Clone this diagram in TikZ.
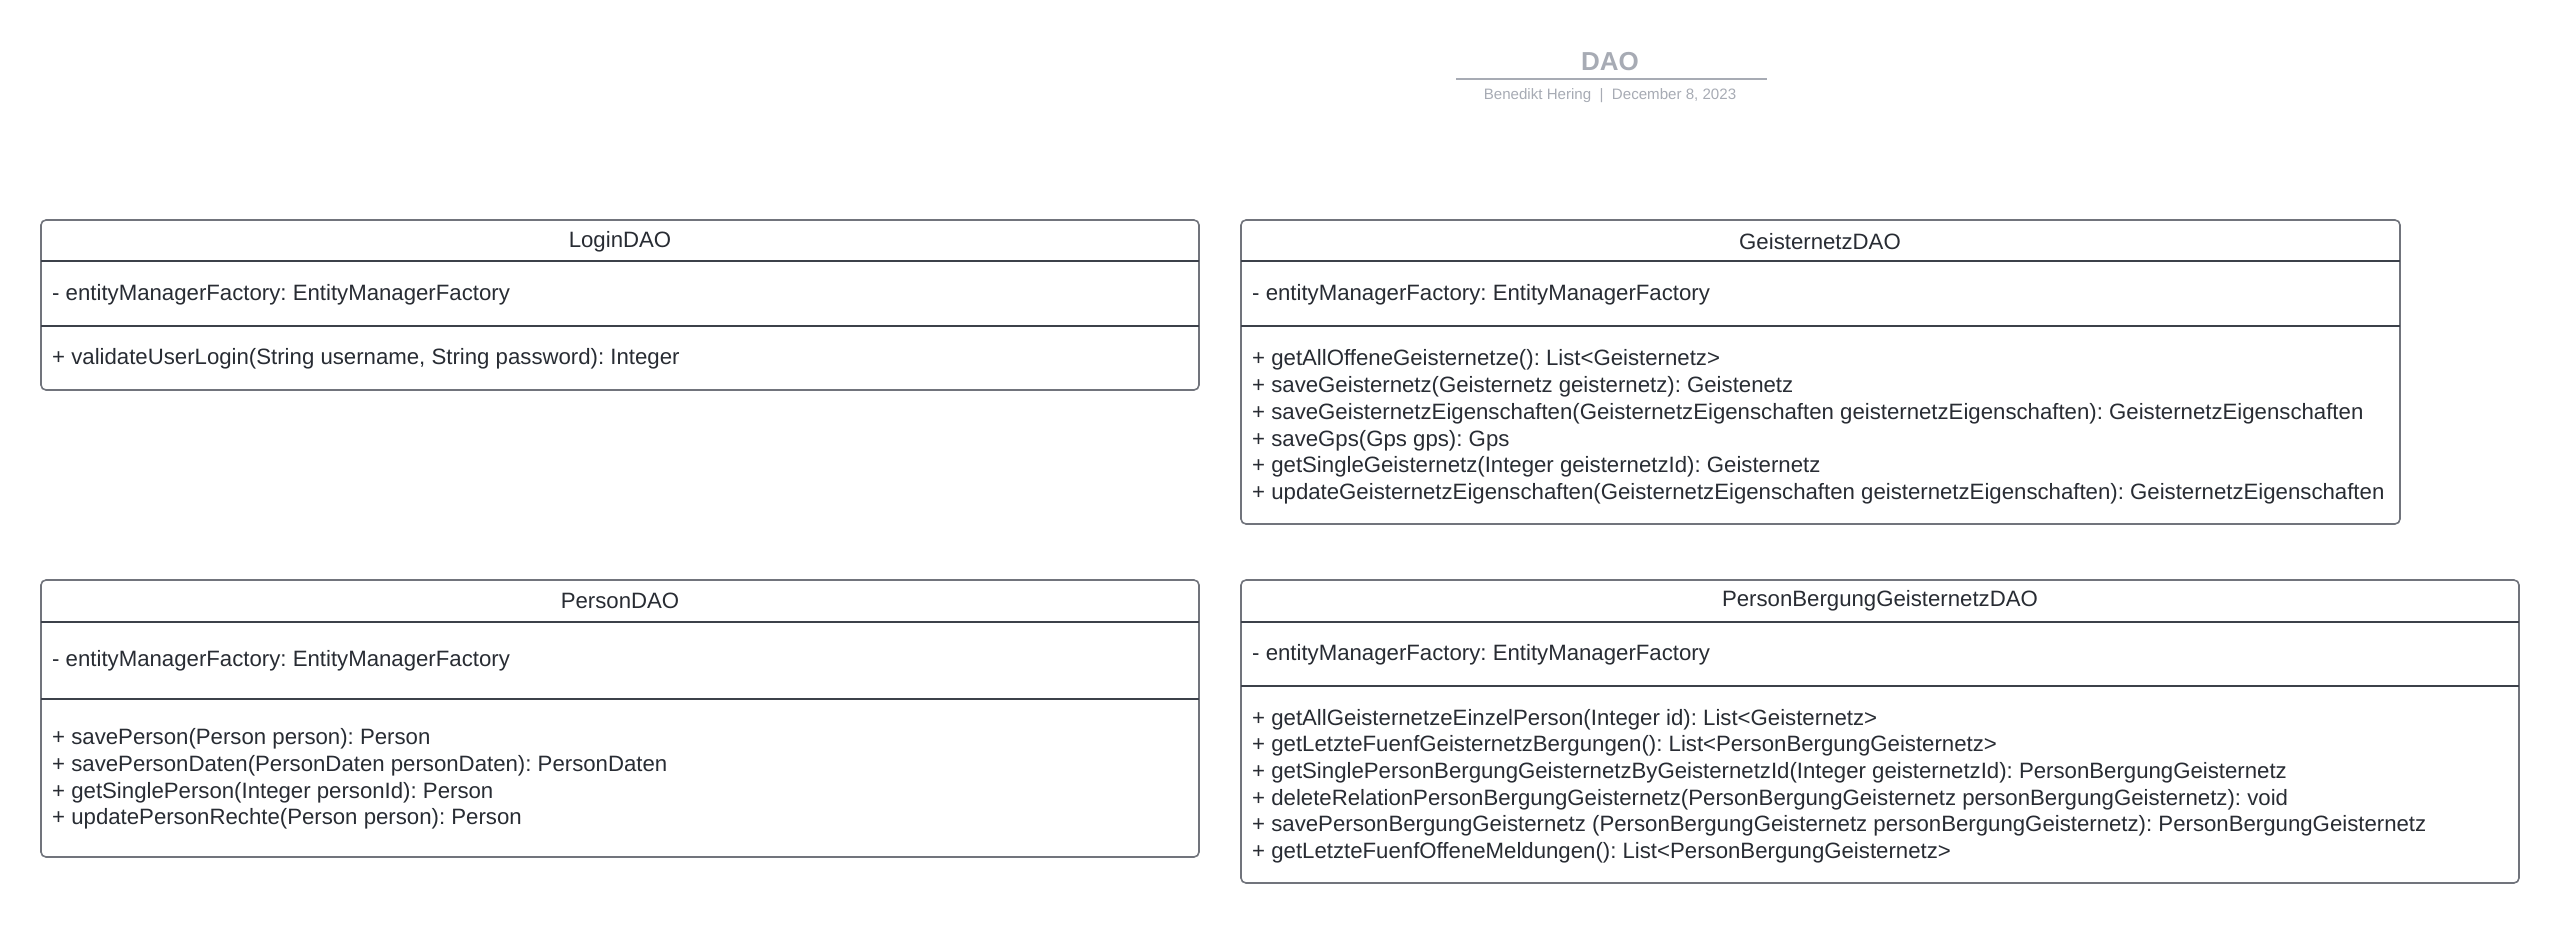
\documentclass[tikz,border=0pt]{standalone}
\usepackage{fontspec}
\setmainfont{Liberation Sans}
\frenchspacing
\definecolor{border}{HTML}{71747C}
\definecolor{sepc}{HTML}{3C414A}
\definecolor{txt}{HTML}{282C33}
\definecolor{ttl}{HTML}{A7ABB4}
\tikzset{
  classbox/.style={draw=border, line width=1.6pt, rounded corners=5pt, fill=white},
  sepline/.style={draw=sepc, line width=1.3pt},
  body/.style={anchor=west, align=left, inner sep=0pt, text=txt, font=\fontsize{22.2}{26.7}\selectfont},
  head/.style={anchor=center, inner sep=0pt, text=txt, font=\fontsize{22.2}{26.7}\selectfont},
}
\begin{document}
\begin{tikzpicture}[x=1pt,y=-1pt]
\useasboundingbox (0,0) rectangle (2560,924);

% title block
\node[inner sep=0pt, text=ttl, font=\fontsize{26}{30}\selectfont\bfseries] (title) at (1610,62) {DAO};
\coordinate (tl) at (1456,79);
\coordinate (tr) at (1767,79);
\draw[ttl, line width=2pt] (tl) -- (tr);
\node[inner sep=0pt, text=ttl, font=\fontsize{15.1}{18}\selectfont] (subtitle) at (1610,96) {Benedikt Hering \ |\ \ December 8, 2023};

% LoginDAO
\path[classbox] (41,220) rectangle (1199,390);
\draw[sepline] (41,261) -- (1199,261);
\draw[sepline] (41,326) -- (1199,326);
\node[head] (loginT) at (620,242) {LoginDAO};
\node[body] (loginA) at (52,295) {- entityManagerFactory: EntityManagerFactory};
\node[body] (loginM) at (52,359) {+ validateUserLogin(String username, String password): Integer};

% GeisternetzDAO
\path[classbox] (1241,220) rectangle (2400,524);
\draw[sepline] (1241,261) -- (2400,261);
\draw[sepline] (1241,326) -- (2400,326);
\node[head] (geiT) at (1820,242) {GeisternetzDAO};
\node[body] (geiA) at (1252,295) {- entityManagerFactory: EntityManagerFactory};
\node[body] (geiM) at (1252,427) {+ getAllOffeneGeisternetze(): List<Geisternetz>\\
+ saveGeisternetz(Geisternetz geisternetz): Geistenetz\\
+ saveGeisternetzEigenschaften(GeisternetzEigenschaften geisternetzEigenschaften): GeisternetzEigenschaften\\
+ saveGps(Gps gps): Gps\\
+ getSingleGeisternetz(Integer geisternetzId): Geisternetz\\
+ updateGeisternetzEigenschaften(GeisternetzEigenschaften geisternetzEigenschaften): GeisternetzEigenschaften};

% PersonDAO
\path[classbox] (41,580) rectangle (1199,857);
\draw[sepline] (41,622) -- (1199,622);
\draw[sepline] (41,699) -- (1199,699);
\node[head] (perT) at (620,601) {PersonDAO};
\node[body] (perA) at (52,661) {- entityManagerFactory: EntityManagerFactory};
\node[body] (perM) at (52,779) {+ savePerson(Person person): Person\\
+ savePersonDaten(PersonDaten personDaten): PersonDaten\\
+ getSinglePerson(Integer personId): Person\\
+ updatePersonRechte(Person person): Person};

% PersonBergungGeisternetzDAO
\path[classbox] (1241,580) rectangle (2519,883);
\draw[sepline] (1241,622) -- (2519,622);
\draw[sepline] (1241,686) -- (2519,686);
\node[head] (pbgT) at (1880,601) {PersonBergungGeisternetzDAO};
\node[body] (pbgA) at (1252,655) {- entityManagerFactory: EntityManagerFactory};
\node[body] (pbgM) at (1252,786) {+ getAllGeisternetzeEinzelPerson(Integer id): List<Geisternetz>\\
+ getLetzteFuenfGeisternetzBergungen(): List<PersonBergungGeisternetz>\\
+ getSinglePersonBergungGeisternetzByGeisternetzId(Integer geisternetzId): PersonBergungGeisternetz\\
+ deleteRelationPersonBergungGeisternetz(PersonBergungGeisternetz personBergungGeisternetz): void\\
+ savePersonBergungGeisternetz (PersonBergungGeisternetz personBergungGeisternetz): PersonBergungGeisternetz\\
+ getLetzteFuenfOffeneMeldungen(): List<PersonBergungGeisternetz>};
\end{tikzpicture}
\end{document}
